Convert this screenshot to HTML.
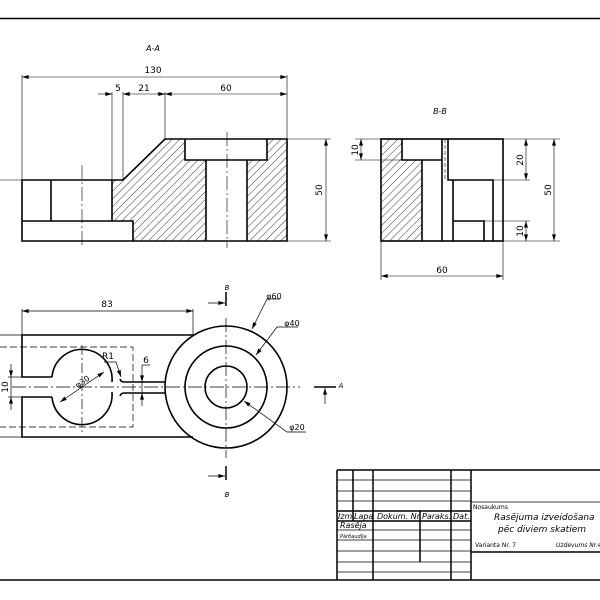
<!DOCTYPE html>
<html><head><meta charset="utf-8"><style>
html,body{margin:0;padding:0;background:#fff;}
svg{display:block;}
text{font-family:"DejaVu Sans","Liberation Sans",sans-serif;fill:#000;}
</style></head><body>
<svg width="600" height="600" viewBox="0 0 600 600" xmlns="http://www.w3.org/2000/svg">
<defs>
<pattern id="h" patternUnits="userSpaceOnUse" width="5.5" height="5.5" patternTransform="rotate(45)">
<line x1="0" y1="0" x2="0" y2="6" stroke="#000" stroke-width="0.8"/>
</pattern>
<marker id="a" viewBox="0 0 10 6" refX="10" refY="3" markerWidth="8" markerHeight="4" orient="auto-start-reverse" markerUnits="userSpaceOnUse">
<path d="M0,0 L10,3 L0,6 z" fill="#000"/>
</marker>
</defs>
<line x1="0" y1="18.5" x2="600" y2="18.5" stroke="#000" stroke-width="1.5"/>
<line x1="0" y1="580" x2="600" y2="580" stroke="#000" stroke-width="1.5"/>

<text x="153" y="51" font-size="8" font-style="italic" text-anchor="middle">A-A</text>
<polygon points="112,180 123,180 165,139 185,139 185,160 206,160 206,241 133,241 133,221 112,221" fill="url(#h)"/>
<polygon points="267,139 287,139 287,241 247,241 247,160 267,160" fill="url(#h)"/>
<g stroke="#000" stroke-width="1.6" fill="none">
<path d="M22,180 H112 H123 L165,139 H287 V241 H22 Z"/>
<path d="M22,221 H133 V241"/>
<line x1="51" y1="180" x2="51" y2="221"/>
<line x1="112" y1="180" x2="112" y2="221"/>
<path d="M185,139 V160 H267 V139"/>
<line x1="206" y1="160" x2="206" y2="241"/>
<line x1="247" y1="160" x2="247" y2="241"/>
</g>
<g stroke="#000" stroke-width="0.6" fill="none">
<line x1="227" y1="132" x2="227" y2="248" stroke-dasharray="14,3,2,3"/>
<line x1="82" y1="165" x2="82" y2="248" stroke-dasharray="14,3,2,3"/>
<line x1="0" y1="180" x2="22" y2="180"/>
<line x1="22" y1="75" x2="22" y2="180"/>
<line x1="287" y1="75" x2="287" y2="139"/>
<line x1="22" y1="77" x2="287" y2="77" marker-start="url(#a)" marker-end="url(#a)"/>
<line x1="112" y1="92" x2="112" y2="180"/>
<line x1="123" y1="92" x2="123" y2="180"/>
<line x1="165" y1="92" x2="165" y2="139"/>
<line x1="98" y1="94" x2="112" y2="94" marker-end="url(#a)"/>
<line x1="123" y1="94" x2="131" y2="94" marker-start="url(#a)"/>
<line x1="131" y1="94" x2="165" y2="94"/>
<line x1="157" y1="94" x2="165" y2="94" marker-end="url(#a)"/>
<line x1="165" y1="94" x2="287" y2="94" marker-start="url(#a)" marker-end="url(#a)"/>
<line x1="287" y1="139" x2="331" y2="139"/>
<line x1="287" y1="241" x2="331" y2="241"/>
<line x1="326" y1="139" x2="326" y2="241" marker-start="url(#a)" marker-end="url(#a)"/>
</g>
<text x="153" y="73" font-size="9" text-anchor="middle">130</text>
<text x="118" y="91" font-size="9" text-anchor="middle">5</text>
<text x="144" y="91" font-size="9" text-anchor="middle">21</text>
<text x="226" y="91" font-size="9" text-anchor="middle">60</text>
<text x="0" y="0" font-size="9" text-anchor="middle" transform="translate(322,190) rotate(-90)">50</text>

<text x="440" y="114" font-size="8" font-style="italic" text-anchor="middle">B-B</text>
<polygon points="381,139 402,139 402,160 422,160 422,241 381,241" fill="url(#h)"/>
<g stroke="#000" stroke-width="1.6" fill="none">
<rect x="381" y="139" width="122" height="102"/>
<path d="M402,139 V160 H442"/>
<line x1="422" y1="160" x2="422" y2="241"/>
<line x1="442" y1="139" x2="442" y2="241"/>
<path d="M448,139 V180 H493 V241"/>
<line x1="453" y1="180" x2="453" y2="241"/>
<path d="M453,221 H484 V241"/>
</g>
<g stroke="#000" stroke-width="0.6" fill="none">
<line x1="445" y1="139" x2="445" y2="180" stroke-dasharray="4,2"/>
<line x1="355" y1="160" x2="402" y2="160"/>
<line x1="355" y1="139" x2="381" y2="139"/>
<line x1="361" y1="139" x2="361" y2="160" marker-start="url(#a)" marker-end="url(#a)"/>
<line x1="503" y1="139" x2="560" y2="139"/>
<line x1="503" y1="241" x2="560" y2="241"/>
<line x1="493" y1="180" x2="530" y2="180"/>
<line x1="484" y1="221" x2="530" y2="221"/>
<line x1="526" y1="139" x2="526" y2="180" marker-start="url(#a)" marker-end="url(#a)"/>
<line x1="526" y1="221" x2="526" y2="241" marker-start="url(#a)" marker-end="url(#a)"/>
<line x1="554" y1="139" x2="554" y2="241" marker-start="url(#a)" marker-end="url(#a)"/>
<line x1="381" y1="241" x2="381" y2="280"/>
<line x1="503" y1="241" x2="503" y2="280"/>
<line x1="381" y1="276" x2="503" y2="276" marker-start="url(#a)" marker-end="url(#a)"/>
</g>
<text x="0" y="0" font-size="9" text-anchor="middle" transform="translate(358,150) rotate(-90)">10</text>
<text x="0" y="0" font-size="9" text-anchor="middle" transform="translate(523,160) rotate(-90)">20</text>
<text x="0" y="0" font-size="9" text-anchor="middle" transform="translate(523,231) rotate(-90)">10</text>
<text x="0" y="0" font-size="9" text-anchor="middle" transform="translate(551,190) rotate(-90)">50</text>
<text x="442" y="273" font-size="9" text-anchor="middle">60</text>

<g stroke="#000" stroke-width="1.6" fill="none">
<path d="M193,335 H22 V377 H52"/>
<path d="M193,437 H22 V397 H52"/>
<path d="M52,377 A30,30 0 1 1 112,382"/>
<path d="M52,397 A30,30 0 1 0 112,392"/>
<path d="M120,379 Q121,382 124,382 H165"/>
<path d="M120,396 Q121,393 124,393 H165"/>
<circle cx="226" cy="387" r="61"/>
<circle cx="226" cy="387" r="41"/>
<circle cx="226" cy="387" r="21"/>
</g>
<g stroke="#000" stroke-width="0.7" fill="none">
<path d="M0,347 H133 V427 H0" stroke-dasharray="7,3"/>
<line x1="0" y1="335" x2="22" y2="335"/>
<line x1="0" y1="437" x2="22" y2="437"/>
<line x1="12" y1="387" x2="300" y2="387" stroke-dasharray="14,3,2,3"/>
<line x1="226" y1="318" x2="226" y2="458" stroke-dasharray="14,3,2,3"/>
<line x1="82" y1="345" x2="82" y2="432" stroke-dasharray="10,3,2,3"/>
<line x1="22" y1="309" x2="22" y2="335"/>
<line x1="193" y1="309" x2="193" y2="335"/>
<line x1="22" y1="311" x2="193" y2="311" marker-start="url(#a)" marker-end="url(#a)"/>
<line x1="8" y1="377" x2="22" y2="377"/>
<line x1="8" y1="397" x2="22" y2="397"/>
<line x1="11" y1="364" x2="11" y2="377" marker-end="url(#a)"/>
<line x1="11" y1="410" x2="11" y2="397" marker-end="url(#a)"/>
<line x1="11" y1="377" x2="11" y2="397"/>
<line x1="142" y1="365" x2="142" y2="382" marker-end="url(#a)"/>
<line x1="142" y1="406" x2="142" y2="393" marker-end="url(#a)"/>
<line x1="142" y1="382" x2="142" y2="393"/>
<line x1="142" y1="365" x2="150" y2="365"/>
<line x1="60" y1="402" x2="104" y2="372" marker-start="url(#a)" marker-end="url(#a)"/>
<path d="M104,362 H116 L121,377" marker-end="url(#a)"/>
<path d="M280,299 H267 L252,329" marker-end="url(#a)"/>
<path d="M298,327 H277 L256,355" marker-end="url(#a)"/>
<path d="M306,432 H287 L244,401" marker-end="url(#a)"/>
<line x1="226" y1="292" x2="226" y2="306" stroke-width="1.5"/>
<line x1="208" y1="303" x2="225" y2="303" marker-end="url(#a)"/>
<line x1="226" y1="466" x2="226" y2="480" stroke-width="1.5"/>
<line x1="208" y1="476" x2="225" y2="476" marker-end="url(#a)"/>
<line x1="314" y1="387" x2="336" y2="387" stroke-width="1.5"/>
<line x1="325" y1="404" x2="325" y2="388" marker-end="url(#a)"/>
</g>
<text x="107" y="307" font-size="9" text-anchor="middle">83</text>
<text x="0" y="0" font-size="9" text-anchor="middle" transform="translate(8,387) rotate(-90)">10</text>
<text x="146" y="363" font-size="9" text-anchor="middle">6</text>
<text x="108" y="359" font-size="9" text-anchor="middle">R1</text>
<text x="0" y="0" font-size="8" text-anchor="middle" transform="translate(84,384) rotate(-34)">φ30</text>
<text x="274" y="299" font-size="8" text-anchor="middle">φ60</text>
<text x="292" y="326" font-size="8" text-anchor="middle">φ40</text>
<text x="297" y="430" font-size="8" text-anchor="middle">φ20</text>
<text x="227" y="290" font-size="7" font-style="italic" text-anchor="middle">B</text>
<text x="227" y="497" font-size="7" font-style="italic" text-anchor="middle">B</text>
<text x="341" y="388" font-size="7" font-style="italic" text-anchor="middle">A</text>

<g stroke="#000" fill="none">
<g stroke-width="1.5">
<line x1="337" y1="470" x2="600" y2="470"/>
<line x1="337" y1="470" x2="337" y2="580"/>
<line x1="353" y1="470" x2="353" y2="521"/>
<line x1="373" y1="470" x2="373" y2="580"/>
<line x1="451" y1="470" x2="451" y2="580"/>
<line x1="471" y1="470" x2="471" y2="580"/>
<line x1="337" y1="511" x2="471" y2="511"/>
<line x1="337" y1="521" x2="471" y2="521"/>
<line x1="471" y1="552" x2="600" y2="552"/>
<line x1="420" y1="521" x2="420" y2="562"/>
<line x1="420" y1="511" x2="420" y2="521"/>
</g>
<g stroke-width="0.7">
<line x1="337" y1="480" x2="471" y2="480"/>
<line x1="337" y1="491" x2="471" y2="491"/>
<line x1="337" y1="501" x2="471" y2="501"/>
<line x1="337" y1="530" x2="471" y2="530"/>
<line x1="337" y1="540" x2="471" y2="540"/>
<line x1="337" y1="551" x2="471" y2="551"/>
<line x1="337" y1="562" x2="471" y2="562"/>
<line x1="337" y1="572" x2="471" y2="572"/>
<line x1="471" y1="502" x2="600" y2="502"/>
</g>
</g>
<g font-style="italic">
<text x="338" y="519" font-size="8">Izm.</text>
<text x="354" y="519" font-size="8">Lapa</text>
<text x="377" y="519" font-size="8">Dokum. Nr.</text>
<text x="422" y="519" font-size="8">Paraks.</text>
<text x="453" y="519" font-size="8">Dat.</text>
<text x="340" y="528" font-size="8">Rasēja</text>
<text x="340" y="538" font-size="5">Pārbaudīja</text>
<text x="494" y="520" font-size="9">Rasējuma izveidošana</text>
<text x="498" y="532" font-size="9">pēc diviem skatiem</text>
<text x="556" y="547" font-size="6">Uzdevums Nr.4</text>
</g>
<text x="473" y="509" font-size="6">Nosaukums</text>
<text x="475" y="547" font-size="6">Varianta Nr. 7</text>
</svg>
</body></html>
